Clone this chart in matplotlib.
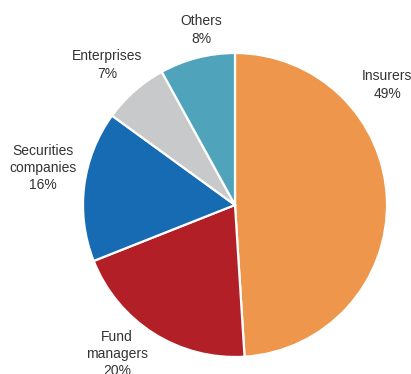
import matplotlib
matplotlib.use("Agg")
from matplotlib import pyplot as plt

# Share of holdings by investor type
categories = ["Insurers", "Fund\nmanagers", "Securities\ncompanies", "Enterprises", "Others"]
shares = [49, 20, 16, 7, 8]
colors = ["#EE964B", "#B31F26", "#176BB3", "#C8C9CB", "#4FA4BC"]

# label anchor positions (pie radius = 1)
label_pos = [(1.0, 0.79), (-0.776, -0.98), (-1.263, 0.243), (-0.842, 0.921), (-0.224, 1.151)]

fig = plt.figure(figsize=(4.11, 3.74), dpi=100)
ax = fig.add_axes([0, 0, 1, 1])

ax.pie(shares, colors=colors, startangle=90, counterclock=False, radius=1.0,
       wedgeprops=dict(edgecolor="white", linewidth=1.6))

for name, val, (x, y) in zip(categories, shares, label_pos):
    ax.text(x, y, f"{name}\n{val}%", ha="center", va="center", fontsize=10,
            family="Liberation Sans", color="#333333", linespacing=1.3)

ax.set_xlim(-235 / 152, (411 - 235) / 152)
ax.set_ylim(-(374 - 205) / 152, 205 / 152)
ax.set_aspect("auto")
ax.axis("off")

fig.savefig("out.png", dpi=100)
